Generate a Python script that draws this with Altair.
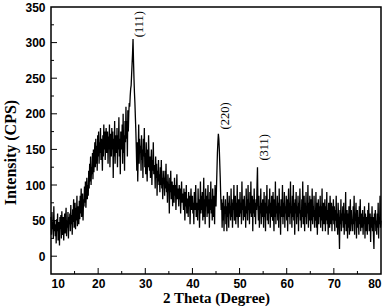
import altair as alt
import pandas as pd

# 2-theta sampling of the scan
start_deg = 10.0
step_deg = 0.1

# Intensity (CPS), 10 samples per degree
seg_10_20 = [
    55, 30, 62, 38, 48, 25, 70, 35, 50, 28,
    45, 18, 52, 35, 60, 22, 48, 40, 15, 55,
    38, 58, 25, 63, 40, 30, 55, 22, 47, 60,
    32, 52, 68, 28, 50, 40, 62, 25, 55, 45,
    60, 35, 72, 45, 58, 30, 66, 48, 80, 40,
    55, 75, 38, 68, 50, 85, 42, 62, 70, 45,
    78, 52, 85, 60, 95, 55, 72, 88, 50, 80,
    70, 98, 75, 105, 68, 92, 110, 80, 100, 85,
    120, 95, 130, 105, 140, 100, 125, 115, 145, 108,
    150, 118, 140, 160, 125, 165, 130, 155, 120, 170,
]
seg_20_30 = [
    140, 175, 130, 160, 145, 180, 135, 165, 150, 120,
    170, 140, 185, 150, 175, 135, 165, 180, 145, 160,
    175, 130, 168, 150, 185, 125, 160, 172, 140, 180,
    150, 175, 110, 165, 140, 190, 130, 170, 155, 145,
    180, 125, 170, 150, 195, 140, 165, 115, 175, 160,
    150, 185, 130, 200, 145, 170, 120, 190, 160, 210,
    165, 190, 140, 205, 175, 200, 215, 210, 225, 235,
    240, 255, 270, 285, 305, 275, 250, 230, 215, 195,
    175, 150, 120, 160, 105, 140, 185, 130, 165, 145,
    155, 120, 170, 135, 150, 110, 165, 140, 180, 125,
]
seg_30_40 = [
    145, 115, 160, 130, 105, 150, 125, 170, 135, 120,
    140, 110, 130, 150, 100, 135, 120, 160, 115, 128,
    125, 95, 140, 110, 130, 85, 120, 105, 135, 100,
    115, 90, 125, 100, 135, 95, 110, 80, 120, 105,
    110, 85, 120, 95, 130, 90, 105, 75, 115, 100,
    100, 60, 110, 90, 120, 80, 95, 105, 70, 100,
    95, 75, 110, 85, 100, 65, 90, 115, 80, 95,
    90, 70, 100, 80, 95, 60, 85, 105, 75, 88,
    85, 65, 95, 75, 50, 90, 70, 100, 60, 80,
    80, 55, 90, 70, 85, 45, 75, 95, 65, 78,
]
seg_40_50 = [
    85, 60, 75, 45, 90, 65, 80, 100, 55, 70,
    75, 50, 95, 65, 80, 40, 70, 105, 60, 85,
    65, 90, 50, 75, 110, 55, 80, 45, 95, 70,
    85, 55, 75, 100, 60, 80, 40, 90, 65, 105,
    60, 80, 50, 95, 70, 55, 85, 45, 100, 75,
    70, 95, 120, 145, 160, 172, 165, 150, 130, 110,
    85, 65, 80, 40, 75, 50, 85, 35, 70, 60,
    80, 45, 70, 35, 90, 55, 75, 40, 85, 60,
    70, 50, 95, 55, 80, 40, 75, 65, 100, 50,
    60, 85, 45, 75, 55, 100, 65, 40, 80, 70,
]
seg_50_60 = [
    55, 90, 60, 75, 45, 105, 65, 80, 50, 70,
    85, 55, 70, 40, 95, 60, 80, 50, 100, 65,
    75, 45, 90, 60, 105, 55, 70, 85, 35, 80,
    60, 95, 55, 75, 45, 80, 65, 100, 125, 70,
    50, 85, 40, 70, 60, 95, 45, 75, 55, 80,
    65, 40, 90, 55, 75, 35, 85, 60, 100, 50,
    70, 45, 80, 60, 95, 40, 75, 55, 85, 65,
    50, 90, 60, 35, 80, 55, 105, 45, 70, 60,
    85, 50, 75, 40, 95, 60, 70, 30, 80, 55,
    65, 100, 45, 75, 55, 90, 40, 70, 60, 85,
]
seg_60_70 = [
    50, 80, 35, 70, 95, 55, 75, 45, 105, 60,
    70, 40, 85, 55, 100, 50, 75, 30, 80, 60,
    90, 45, 70, 55, 85, 35, 75, 60, 95, 50,
    65, 40, 80, 55, 105, 45, 70, 85, 35, 75,
    55, 90, 45, 70, 60, 100, 40, 75, 50, 85,
    60, 35, 80, 50, 95, 45, 70, 55, 85, 40,
    65, 50, 90, 40, 75, 30, 60, 80, 45, 70,
    55, 85, 40, 70, 50, 95, 35, 65, 75, 45,
    60, 80, 35, 70, 50, 90, 45, 65, 30, 75,
    55, 40, 85, 60, 45, 75, 35, 70, 50, 80,
]
seg_70_80 = [
    45, 70, 35, 65, 50, 85, 40, 60, 30, 75,
    55, 40, 10, 65, 45, 80, 35, 60, 50, 70,
    40, 75, 30, 60, 45, 90, 35, 55, 65, 25,
    60, 40, 70, 30, 55, 80, 35, 65, 45, 50,
    35, 70, 45, 85, 30, 60, 50, 75, 25, 55,
    65, 40, 55, 30, 70, 45, 80, 35, 60, 50,
    40, 65, 30, 55, 45, 70, 25, 60, 50, 35,
    55, 30, 65, 45, 75, 35, 50, 60, 20, 55,
    40, 70, 35, 55, 30, 10, 60, 45, 65, 35,
    50, 30, 60, 40, 75, 25, 55, 45, 85, 40,
    50,
]

intensity = seg_10_20 + seg_20_30 + seg_30_40 + seg_40_50 + seg_50_60 + seg_60_70 + seg_70_80
two_theta = [round(start_deg + step_deg * i, 1) for i in range(len(intensity))]

# Peak annotations
peak_labels = ["(111)", "(220)", "(311)"]
peak_x = [28.7, 47.0, 55.1]
peak_y = [326, 197, 153]

# Axis ticks
x_labels = [10, 20, 30, 40, 50, 60, 70, 80]
y_labels = [0, 50, 100, 150, 200, 250, 300, 350]
x_major = [20, 30, 40, 50, 60, 70]
x_minor = [15, 25, 35, 45, 55, 65, 75]
y_major = [0, 50, 100, 150, 200, 250, 300]
y_minor = [25, 75, 125, 175, 225, 275, 325]

W, H = 330, 267

df = pd.DataFrame({"theta": two_theta, "cps": intensity})
lab = pd.DataFrame({"x": peak_x, "y": peak_y, "t": peak_labels})

xs = alt.Scale(domain=[10, 80], nice=False, zero=False)
ys = alt.Scale(domain=[-25, 350], nice=False, zero=False)

x_axis = alt.Axis(title="2 Theta (Degree)", values=x_labels, format="d", ticks=False,
                  labelPadding=4, titlePadding=1, labelOverlap=False, titleFontSize=15)
y_axis = alt.Axis(title="Intensity (CPS)", values=y_labels, format="d", ticks=False,
                  labelPadding=6, titlePadding=6, labelOverlap=False, titleFontSize=16,
                  titleY=145)

line = alt.Chart(df).mark_line(color="black", strokeWidth=1.3).encode(
    x=alt.X("theta:Q", scale=xs, axis=x_axis),
    y=alt.Y("cps:Q", scale=ys, axis=y_axis),
)

texts = alt.Chart(lab).mark_text(angle=270, font="Liberation Serif", fontSize=12.5,
                                 color="black").encode(
    x=alt.X("x:Q", scale=xs, axis=x_axis), y=alt.Y("y:Q", scale=ys, axis=y_axis), text="t:N")

xmaj = alt.Chart(pd.DataFrame({"v": x_major})).mark_rule(color="black", strokeWidth=1).encode(
    x=alt.X("v:Q", scale=xs, axis=x_axis), y=alt.value(H), y2=alt.value(H - 6))
xmin = alt.Chart(pd.DataFrame({"v": x_minor})).mark_rule(color="black", strokeWidth=1).encode(
    x=alt.X("v:Q", scale=xs, axis=x_axis), y=alt.value(H), y2=alt.value(H - 3))
ymaj = alt.Chart(pd.DataFrame({"v": y_major})).mark_rule(color="black", strokeWidth=1).encode(
    y=alt.Y("v:Q", scale=ys, axis=y_axis), x=alt.value(0), x2=alt.value(6))
ymin = alt.Chart(pd.DataFrame({"v": y_minor})).mark_rule(color="black", strokeWidth=1).encode(
    y=alt.Y("v:Q", scale=ys, axis=y_axis), x=alt.value(0), x2=alt.value(3))

chart = alt.layer(line, texts, xmaj, xmin, ymaj, ymin).properties(
    width=W, height=H,
    autosize=alt.AutoSizeParams(type="none"),
    padding={"left": 51, "top": 7, "right": 7, "bottom": 33},
    background="white",
).configure_view(stroke="black", strokeWidth=1.5).configure_axis(
    grid=False, domain=False, labelOverlap=False,
    labelFont="Liberation Sans", labelFontWeight="bold", labelFontSize=12, labelColor="black",
    titleFont="Liberation Serif", titleFontWeight="bold", titleColor="black",
)

chart.save("out.html", embed_options={"renderer": "svg", "actions": False})
